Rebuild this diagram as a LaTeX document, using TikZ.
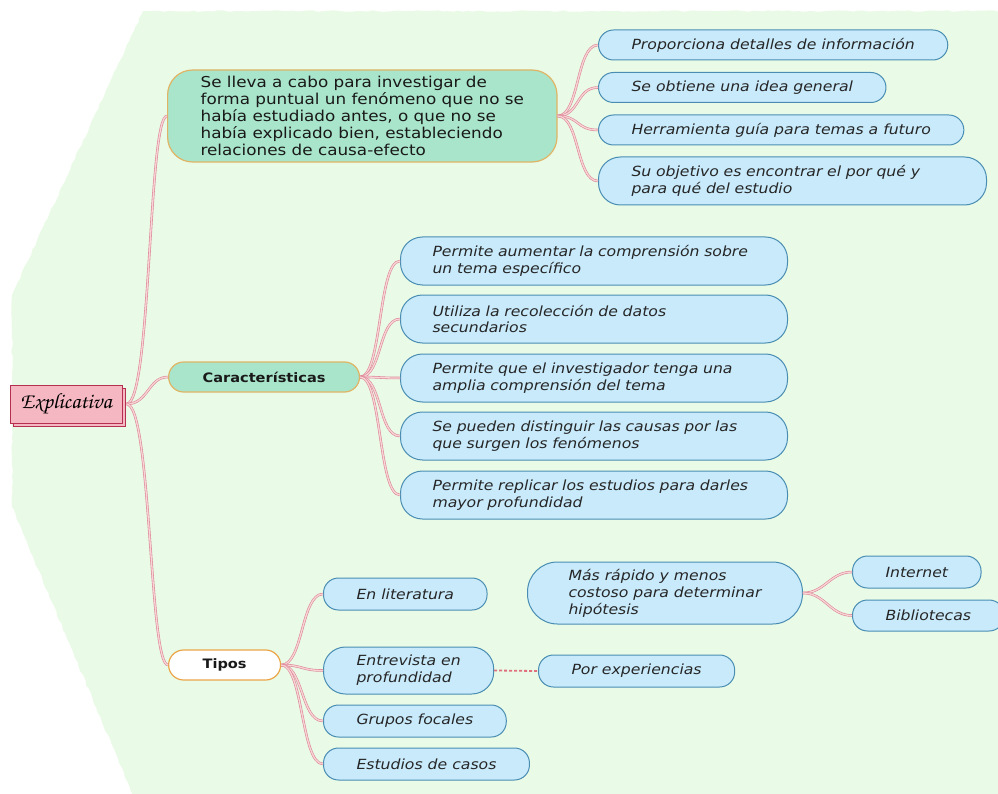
\documentclass[tikz,border=0pt]{standalone}
\usepackage{fontspec}
\setmainfont{DejaVu Sans}[FakeStretch=1.12]
\usetikzlibrary{shadows,decorations.pathmorphing}
\definecolor{bgmint}{HTML}{E9FBE6}
\definecolor{mintfill}{HTML}{A9E5CB}
\definecolor{tanline}{HTML}{E0B465}
\definecolor{skyfill}{HTML}{C8EAFB}
\definecolor{skyline}{HTML}{4A8DB3}
\definecolor{rosefill}{HTML}{F5B7C1}
\definecolor{roseline}{HTML}{B4304E}
\definecolor{branchline}{HTML}{DD8795}
\definecolor{branchfill}{HTML}{F8D4D8}
\definecolor{orangeline}{HTML}{EBA548}
\definecolor{dotline}{HTML}{E0707E}

\begin{document}
\begin{tikzpicture}[x=1pt, y=-1pt,
  idea/.style={draw=skyline, fill=skyfill, line width=1pt, rounded corners=15pt,
    minimum height=30pt, align=left, inner xsep=33pt, inner ysep=0pt, anchor=west,
    font=\fontsize{14}{17}\selectfont\itshape, text=black!85},
  idea2/.style={idea, rounded corners=22pt, minimum height=48pt},
  topic/.style={draw=tanline, fill=mintfill, line width=1.2pt, rounded corners=15pt,
    minimum height=30pt, inner xsep=34pt, inner ysep=0pt, anchor=west,
    font=\fontsize{13}{16}\selectfont\bfseries, text=black!90},
  branch/.style={draw=branchline, double=branchfill, line width=0.6pt, double distance=1.3pt},
  dotbranch/.style={draw=dotline, line width=1.8pt, dash pattern=on 3pt off 2pt}]
\useasboundingbox (0,0) rectangle (998,794);
\fill [bgmint, decorate, decoration={random steps, segment length=5pt, amplitude=0.8pt}]
  (143,11) -- (1010,11) -- (1010,800) -- (135,800) -- (12,507) -- (12,295) -- cycle;

\node [draw=roseline, fill=rosefill, line width=1pt, minimum width=112pt, minimum height=38pt,
  copy shadow={shadow xshift=3pt, shadow yshift=-3pt},
  font=\fontsize{22}{24}\usefont{OT1}{pzc}{mb}{it}] (explic) at (66,404) {Explicativa};

\node [topic, rounded corners=25pt, minimum height=92pt, align=left, inner xsep=33pt,
  font=\fontsize{15}{17}\selectfont] (des) at (167,116)
  {Se lleva a cabo para investigar de\\forma puntual un fenómeno que no se\\había estudiado antes, o que no se\\había explicado bien, estableciendo\\relaciones de causa-efecto};
\node [topic] (car) at (168,377) {Características};
\node [topic, fill=white, draw=orangeline] (tip) at (168,665) {Tipos};

\node [idea] (p1) at (598,45) {Proporciona detalles de información};
\node [idea] (p2) at (598,87.5) {Se obtiene una idea general};
\node [idea] (p3) at (598,130) {Herramienta guía para temas a futuro};
\node [idea2, text width=322pt] (p4) at (598,181) {Su objetivo es encontrar el por qué y\\para qué del estudio};

\node [idea2, inner xsep=32pt, text width=323pt] (c1) at (400,261) {Permite aumentar la comprensión sobre\\un tema específico};
\node [idea2, inner xsep=32pt, text width=323pt] (c2) at (400,319) {Utiliza la recolección de datos\\secundarios};
\node [idea2, inner xsep=32pt, text width=323pt] (c3) at (400,378) {Permite que el investigador tenga una\\amplia comprensión del tema};
\node [idea2, inner xsep=32pt, text width=323pt] (c4) at (400,436) {Se pueden distinguir las causas por las\\que surgen los fenómenos};
\node [idea2, inner xsep=32pt, text width=323pt] (c5) at (400,495) {Permite replicar los estudios para darles\\mayor profundidad};

\node [idea, minimum height=32pt] (t1) at (323,594) {En literatura};
\node [idea2, minimum height=47pt] (t2) at (323,670.5) {Entrevista en\\profundidad};
\node [idea, minimum height=32pt] (t3) at (323,721) {Grupos focales};
\node [idea, minimum height=32pt] (t4) at (323,764) {Estudios de casos};
\node [idea, minimum height=32pt] (por) at (538,671) {Por experiencias};

\node [idea, rounded corners=30pt, minimum height=62pt, inner xsep=41pt] (mas) at (527,593)
  {Más rápido y menos\\costoso para determinar\\hipótesis};
\node [idea, minimum height=32pt] (int) at (852,572) {Internet};
\node [idea, minimum height=31pt] (bib) at (852,615.5) {Bibliotecas};

\draw [branch] ([xshift=4pt]explic.east) .. controls +(25,0) and +(-19,0) .. (des.west);
\draw [branch] ([xshift=4pt]explic.east) .. controls +(22,0) and +(-20,0) .. (car.west);
\draw [branch] ([xshift=4pt]explic.east) .. controls +(25,0) and +(-19,0) .. (tip.west);

\draw [branch] (des.east) .. controls +(22,0) and +(-22,0) .. (p1.west);
\draw [branch] (des.east) .. controls +(22,0) and +(-22,0) .. (p2.west);
\draw [branch] (des.east) .. controls +(22,0) and +(-22,0) .. (p3.west);
\draw [branch] (des.east) .. controls +(22,0) and +(-22,0) .. (p4.west);

\draw [branch] (car.east) .. controls +(22,0) and +(-22,0) .. (c1.west);
\draw [branch] (car.east) .. controls +(22,0) and +(-22,0) .. (c2.west);
\draw [branch] (car.east) .. controls +(22,0) and +(-22,0) .. (c3.west);
\draw [branch] (car.east) .. controls +(22,0) and +(-22,0) .. (c4.west);
\draw [branch] (car.east) .. controls +(22,0) and +(-22,0) .. (c5.west);

\draw [branch] (tip.east) .. controls +(22,0) and +(-22,0) .. (t1.west);
\draw [branch] (tip.east) .. controls +(22,0) and +(-22,0) .. (t2.west);
\draw [branch] (tip.east) .. controls +(22,0) and +(-22,0) .. (t3.west);
\draw [branch] (tip.east) .. controls +(22,0) and +(-22,0) .. (t4.west);

\draw [branch] (mas.east) .. controls +(22,0) and +(-22,0) .. (int.west);
\draw [branch] (mas.east) .. controls +(22,0) and +(-22,0) .. (bib.west);

\draw [dotbranch] (t2.east) -- (por.west);
\end{tikzpicture}
\end{document}
